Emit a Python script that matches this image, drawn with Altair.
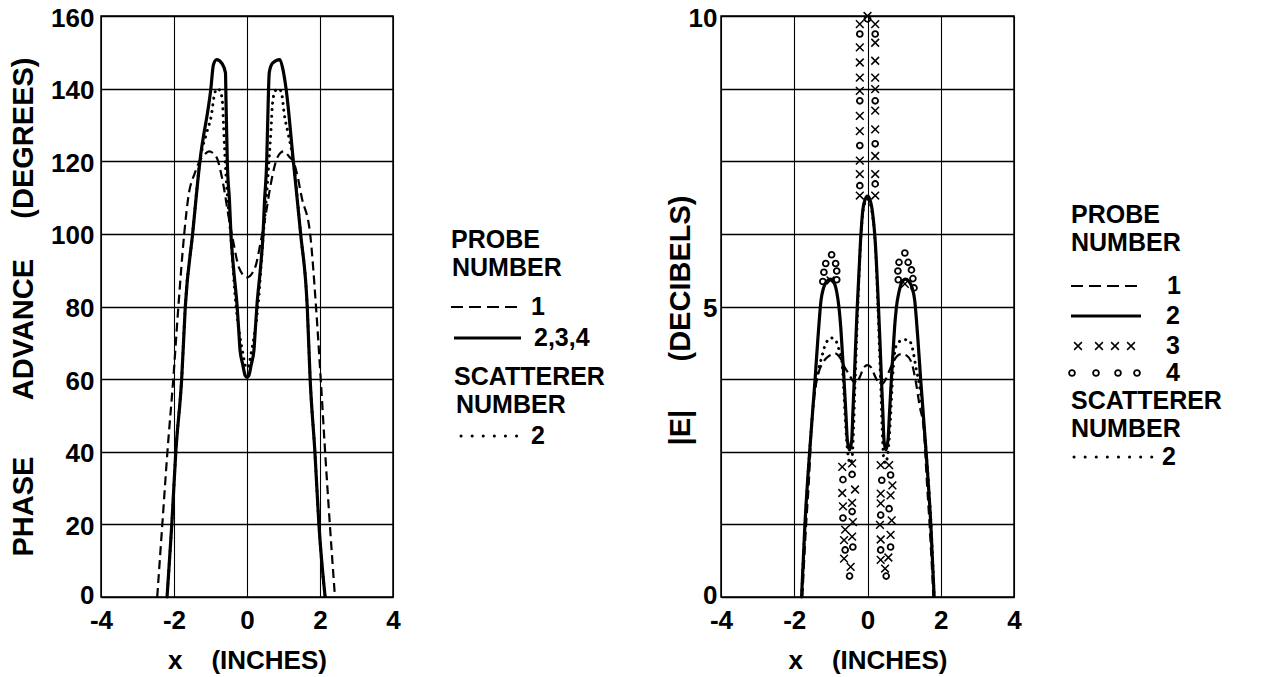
import altair as alt
import pandas as pd

FONT = "Liberation Sans"
NB = "\u00a0"

# ---------------- Left panel: phase advance (degrees) ----------------
L_probe1_x = [-2.46, -2.32, -2.18, -2.02, -1.88, -1.72, -1.61, -1.42, -1.30, -1.15, -1.04, -0.83, -0.74, -0.63,
              -0.52, -0.37, -0.22, 0.0, 0.22, 0.37, 0.52, 0.63, 0.74, 0.83, 1.0, 1.18, 1.27, 1.36, 1.50, 1.73,
              1.89, 2.02, 2.14, 2.27, 2.41]
L_probe1_y = [0, 20, 40, 60, 80, 100, 110, 117, 120, 122, 122.7, 121, 118, 112.5, 105.7, 97.5, 90.7, 88,
              90.7, 97.5, 105.7, 112.5, 118, 121, 122.7, 121, 120, 117, 110, 100, 80, 60, 40, 20, 0]

L_probe234_x = [-2.19, -2.06, -1.95, -1.79, -1.69, -1.49, -1.29, -0.99, -0.92, -0.83, -0.69, -0.59, -0.575,
                -0.54, -0.48, -0.44, -0.37, -0.27, -0.22, -0.19, -0.12, -0.05, 0.0,
                0.05, 0.12, 0.19, 0.22, 0.27, 0.37, 0.44, 0.48, 0.54, 0.57, 0.61, 0.70, 0.90, 0.98, 1.07,
                1.27, 1.47, 1.65, 1.73, 1.86, 1.97, 2.14]
L_probe234_y = [0, 20, 40, 60, 80, 100, 120, 140, 146.6, 148, 147, 144.4, 136.6,
                120, 109, 100, 90.7, 80, 72.4, 67.9, 64.2, 61, 60.5,
                61, 64.2, 67.9, 72.4, 80, 90.7, 100, 109, 120, 132, 144.4, 147, 148, 145.5, 140,
                120, 100, 80, 60, 40, 20, 0]

L_scat2_x = [-2.19, -2.06, -1.95, -1.79, -1.69, -1.49, -1.29, -1.10, -0.97, -0.90, -0.82, -0.74, -0.67, -0.64,
             -0.575, -0.50, -0.45, -0.30, -0.20, -0.12, -0.05, 0.0,
             0.05, 0.12, 0.20, 0.30, 0.45, 0.50, 0.575, 0.66, 0.70, 0.78, 0.88, 0.96, 1.02, 1.12,
             1.27, 1.47, 1.65, 1.73, 1.86, 1.97, 2.14]
L_scat2_y = [0, 20, 40, 60, 80, 100, 120, 128, 133, 138, 140, 139.5, 136, 129,
             116, 106, 100, 80, 72, 67.5, 63.8, 63,
             63.8, 67.5, 72, 80, 100, 106, 116, 129, 136, 139.5, 140, 138, 133, 128,
             120, 100, 80, 60, 40, 20, 0]

# ---------------- Right panel: |E| (decibels) ----------------
R_probe1_x = [-1.78, -1.68, -1.60, -1.52, -1.42, -1.33, -1.20, -1.05, -0.87, -0.75, -0.62, -0.51, -0.40, -0.32,
              -0.20, -0.10, 0.0, 0.10, 0.22, 0.32, 0.40, 0.50, 0.60, 0.75, 0.92, 1.08, 1.22, 1.32, 1.42, 1.54,
              1.62, 1.70, 1.80]
R_probe1_y = [0, 1.2, 2.0, 3.0, 3.6, 3.87, 4.05, 4.15, 4.19, 4.12, 3.95, 3.84, 3.72, 3.67,
              3.8, 3.95, 3.99, 3.95, 3.78, 3.68, 3.67, 3.75, 3.9, 4.1, 4.18, 4.15, 4.0, 3.7, 3.3, 2.87,
              2.0, 1.2, 0]

R_probe2_x = [-1.80, -1.71, -1.58, -1.43, -1.36, -1.31, -1.27, -1.20, -1.10, -1.02, -0.92, -0.84, -0.78, -0.73,
              -0.69, -0.65, -0.62, -0.59, -0.55, -0.49, -0.43, -0.40, -0.36, -0.32, -0.28, -0.19, -0.13, -0.06,
              0.0, 0.06, 0.13, 0.21, 0.30, 0.34, 0.38, 0.42, 0.45, 0.50, 0.56, 0.60, 0.63, 0.66, 0.70, 0.74,
              0.79, 0.86, 0.94, 1.04, 1.12, 1.22, 1.29, 1.33, 1.38, 1.45, 1.60, 1.73, 1.82]
R_probe2_y = [0, 1.23, 2.5, 3.76, 4.4, 4.82, 5.1, 5.32, 5.44, 5.47, 5.42, 5.25, 4.99, 4.64,
              4.24, 3.84, 3.5, 3.16, 2.70, 2.53, 2.70, 3.16, 3.76, 4.4, 4.99, 6.13, 6.65, 6.85,
              6.9, 6.85, 6.65, 6.13, 4.99, 4.4, 3.76, 3.16, 2.70, 2.53, 2.70, 3.16, 3.5, 3.84, 4.24, 4.64,
              4.99, 5.25, 5.42, 5.47, 5.44, 5.32, 5.1, 4.82, 4.4, 3.76, 2.5, 1.23, 0]

R_scat2_x = [-1.80, -1.70, -1.58, -1.45, -1.33, -1.25, -1.14, -0.99, -0.87, -0.80, -0.73, -0.69, -0.65, -0.61,
             -0.57, -0.52, -0.47, -0.42, -0.38, -0.35, -0.31, -0.27, -0.19, -0.13, -0.06, 0.0,
             0.06, 0.13, 0.21, 0.29, 0.33, 0.37, 0.40, 0.44, 0.49, 0.54, 0.59, 0.63, 0.67, 0.71, 0.77,
             0.86, 1.0, 1.13, 1.22, 1.32, 1.45, 1.60, 1.73, 1.82]
R_scat2_y = [0, 1.3, 2.5, 3.5, 3.93, 4.13, 4.36, 4.46, 4.42, 4.30, 4.16, 4.0, 3.6, 3.1,
             2.7, 2.4, 2.3, 2.4, 2.9, 3.5, 4.2, 4.9, 6.1, 6.6, 6.8, 6.85,
             6.8, 6.6, 6.1, 4.9, 4.2, 3.5, 2.9, 2.4, 2.3, 2.4, 2.7, 3.1, 3.6, 4.0, 4.30,
             4.39, 4.43, 4.42, 4.30, 3.96, 3.5, 2.5, 1.3, 0]

# probe 3 measured points (x marks)
P3_x = [0.0,
        -0.21, -0.21, -0.21, -0.21, -0.21, -0.21, -0.21, -0.21, -0.21, -0.21,
        0.21, 0.21, 0.21, 0.21, 0.21, 0.21, 0.21, 0.21, 0.21, 0.21,
        -1.01, 1.02,
        -0.69, -0.42, -0.34, -0.69, -0.42, -0.67, -0.40, -0.61, -0.42, -0.64, -0.64, -0.46,
        0.36, 0.59, 0.68, 0.36, 0.63, 0.36, 0.66, 0.34, 0.63, 0.36, 0.57, 0.36, 0.48]
P3_y = [10.0,
        9.86, 9.46, 9.20, 8.94, 8.71, 8.28, 8.02, 7.51, 7.28, 6.91,
        9.86, 9.54, 9.23, 8.94, 8.74, 8.37, 8.05, 7.59, 7.28, 6.91,
        5.45, 5.39,
        2.24, 2.30, 1.85, 1.79, 1.62, 1.56, 1.29, 1.16, 1.04, 0.98, 0.66, 0.52,
        2.27, 2.27, 1.92, 1.78, 1.75, 1.61, 1.32, 1.24, 1.07, 0.99, 0.68, 0.64, 0.49]

# probe 4 measured points (o marks)
P4_x = [0.0, -0.21, -0.21, -0.21, -0.21, 0.21, 0.21, 0.21, 0.21,
        -0.98, -1.14, -0.87, -1.19, -0.84, -1.22, -0.84,
        1.02, 0.86, 1.11, 0.83, 1.20, 0.84, 1.24, 1.27,
        -0.42, -0.67, -0.42, -0.67, -0.40, -0.61, -0.49,
        0.63, 0.39, 0.59, 0.36, 0.63, 0.36, 0.51]
P4_y = [9.95, 9.69, 8.54, 7.77, 7.08, 9.69, 8.54, 7.80, 7.11,
        5.89, 5.74, 5.74, 5.59, 5.61, 5.43, 5.46,
        5.92, 5.76, 5.76, 5.61, 5.63, 5.46, 5.48, 5.32,
        2.11, 2.02, 1.47, 1.36, 0.86, 0.81, 0.36,
        2.10, 2.01, 1.52, 1.41, 0.86, 0.81, 0.36]

X_TICKS = [-4, -2, 0, 2, 4]
L_Y_TICKS = [0, 20, 40, 60, 80, 100, 120, 140, 160]
R_Y_TICKS = [0, 1.25, 2.5, 3.75, 5, 6.25, 7.5, 8.75, 10]

# ---------------- styling ----------------
DASH = [9, 5]
DOT = [0.1, 6.5]
XPATH = "M-1,-1L1,1M-1,1L1,-1"
LEG_FS = 25
WEIGHT = "bold"

W_L, W_R, H = 292, 293, 581

axis_common = dict(
    titleFont=FONT, labelFont=FONT, titleFontWeight=WEIGHT, labelFontWeight=WEIGHT,
    labelColor="black", titleColor="black",
    ticks=False, tickSize=0, domain=False, grid=True, gridColor="black", gridOpacity=1,
    labelFlush=False, labelOverlap=False,
)

Y_LABEL_OFFSET = {"condition": {"test": "datum.value == 0", "value": -2}, "value": 2}

X_AXIS = alt.Axis(values=X_TICKS, labelExpr="'' + datum.value", labelFontSize=26, labelPadding=10,
                  title="x" + NB * 4 + "(INCHES)", titleFontSize=26, titlePadding=14, gridWidth=1.1,
                  **axis_common)

LEFT_Y_AXIS = alt.Axis(values=L_Y_TICKS, labelFontSize=26, labelPadding=7, labelOffset=Y_LABEL_OFFSET,
                       title="PHASE" + NB * 7 + "ADVANCE" + NB * 5 + "(DEGREES)", titleFontSize=29,
                       titlePadding=12, gridWidth=1.5, **axis_common)

RIGHT_Y_AXIS = alt.Axis(values=R_Y_TICKS,
                        labelExpr="(datum.value == 0 || datum.value == 5 || datum.value == 10) ? '' + datum.value : ''",
                        labelFontSize=26, labelPadding=4, labelOffset=Y_LABEL_OFFSET,
                        title="|E|" + NB * 6 + "(DECIBELS)", titleFontSize=29, titlePadding=-7, titleY=304,
                        gridWidth=1.5, **axis_common)

xs = alt.Scale(domain=[-4, 4], nice=False, zero=False)
ys_left = alt.Scale(domain=[0, 160], nice=False)
ys_right = alt.Scale(domain=[0, 10], nice=False)


def curve(xv, yv, yscale, yaxis, dash=None, width=3.0, cap="butt"):
    df = pd.DataFrame({"x": xv, "y": yv})
    kw = dict(color="black", strokeWidth=width, interpolate="monotone", strokeCap=cap)
    if dash is not None:
        kw["strokeDash"] = dash
    return alt.Chart(df).mark_line(**kw).encode(
        x=alt.X("x:Q", scale=xs, axis=X_AXIS),
        y=alt.Y("y:Q", scale=yscale, axis=yaxis),
    )


def points(xv, yv, shape, size, sw):
    df = pd.DataFrame({"x": xv, "y": yv})
    return alt.Chart(df).mark_point(shape=shape, filled=False, size=size, strokeWidth=sw, color="black",
                                    opacity=1).encode(
        x=alt.X("x:Q", scale=xs, axis=X_AXIS),
        y=alt.Y("y:Q", scale=ys_right, axis=RIGHT_Y_AXIS),
    )


_one = pd.DataFrame({"a": [0]})


def ltext(t, x, y):
    return alt.Chart(pd.DataFrame({"t": [t]})).mark_text(
        align="left", baseline="middle", font=FONT, fontSize=LEG_FS, fontWeight=WEIGHT, color="black"
    ).encode(text="t:N", x=alt.value(x), y=alt.value(y))


def lrule(x1, x2, y, dash=None, width=3.0, cap="butt"):
    kw = dict(color="black", strokeWidth=width, strokeCap=cap)
    if dash is not None:
        kw["strokeDash"] = dash
    return alt.Chart(_one).mark_rule(**kw).encode(x=alt.value(x1), x2=alt.value(x2), y=alt.value(y))


def lglyph(x, y, shape, size, sw):
    return alt.Chart(_one).mark_point(shape=shape, filled=False, size=size, strokeWidth=sw, color="black",
                                      opacity=1).encode(x=alt.value(x), y=alt.value(y))


XS, OS = 60, 34

# ---------------- left panel ----------------
left_layers = [
    curve(L_probe1_x, L_probe1_y, ys_left, LEFT_Y_AXIS, dash=DASH, width=2.2),
    curve(L_probe234_x, L_probe234_y, ys_left, LEFT_Y_AXIS, width=3.2),
    curve(L_scat2_x, L_scat2_y, ys_left, LEFT_Y_AXIS, dash=DOT, width=3.0, cap="round"),
    # legend
    ltext("PROBE", 350, 224),
    ltext("NUMBER", 351, 252),
    lrule(350, 418, 291, dash=[12, 6], width=2.2),
    ltext("1", 430, 291),
    lrule(353, 420, 322, width=3),
    ltext("2,3,4", 433, 322),
    ltext("SCATTERER", 353, 361),
    ltext("NUMBER", 355, 389),
    lrule(360, 425, 420, dash=[0.1, 11], width=3, cap="round"),
    ltext("2", 430, 420),
]
left = alt.layer(*left_layers).properties(width=W_L, height=H)

# ---------------- right panel ----------------
right_layers = [
    curve(R_probe1_x, R_probe1_y, ys_right, RIGHT_Y_AXIS, dash=DASH, width=2.2),
    curve(R_probe2_x, R_probe2_y, ys_right, RIGHT_Y_AXIS, width=3.2),
    curve(R_scat2_x, R_scat2_y, ys_right, RIGHT_Y_AXIS, dash=DOT, width=3.0, cap="round"),
    points(P3_x, P3_y, XPATH, XS, 1.5),
    points(P4_x, P4_y, "circle", OS, 1.8),
    # legend
    ltext("PROBE", 350, 199),
    ltext("NUMBER", 350, 227),
    lrule(350, 418, 270, dash=[12, 6], width=2.2),
    ltext("1", 446, 270),
    lrule(350, 420, 300, width=3),
    ltext("2", 445, 300),
    lglyph(357, 330, XPATH, XS, 1.5),
    lglyph(378, 330, XPATH, XS, 1.5),
    lglyph(394, 330, XPATH, XS, 1.5),
    lglyph(410, 330, XPATH, XS, 1.5),
    ltext("3", 445, 330),
    lglyph(351, 357, "circle", OS, 1.8),
    lglyph(375, 357, "circle", OS, 1.8),
    lglyph(397, 357, "circle", OS, 1.8),
    lglyph(416, 357, "circle", OS, 1.8),
    ltext("4", 445, 357),
    ltext("SCATTERER", 350, 385),
    ltext("NUMBER", 350, 413),
    lrule(353, 434, 441, dash=[0.1, 11], width=3, cap="round"),
    ltext("2", 441, 441),
]
right = alt.layer(*right_layers).properties(width=W_R, height=H)

chart = alt.hconcat(left, right, spacing=328, bounds="flush").properties(
    padding={"left": 0, "top": -4, "right": 0, "bottom": 0},
    background="white",
).configure_view(stroke="black", strokeWidth=1.5)

chart.save("out.html", embed_options={"renderer": "svg", "actions": False})
